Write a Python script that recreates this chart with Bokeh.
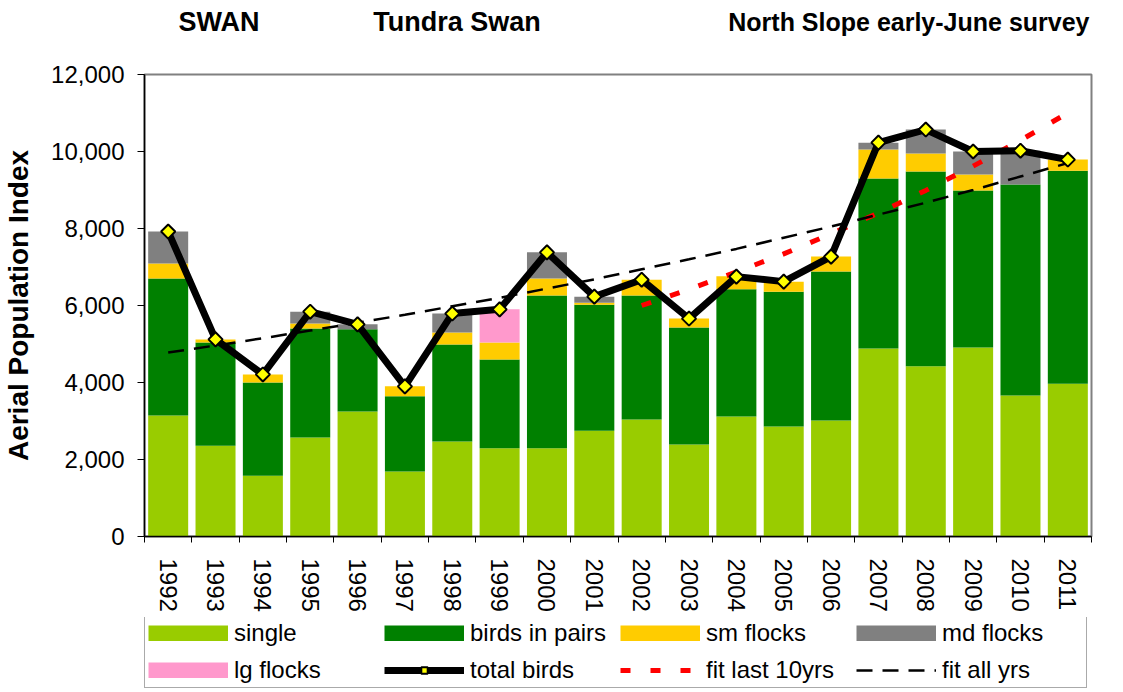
import math
from bokeh.plotting import figure
from bokeh.layouts import column
from bokeh.models import (ColumnDataSource, FixedTicker, Legend, LegendItem, Range1d,
                          NumeralTickFormatter, Label)
from bokeh.embed import file_html
from bokeh.resources import INLINE

# ---- data ----
years = [1992, 1993, 1994, 1995, 1996, 1997, 1998, 1999, 2000, 2001,
         2002, 2003, 2004, 2005, 2006, 2007, 2008, 2009, 2010, 2011]
single = [3140, 2360, 1580, 2570, 3250, 1690, 2470, 2290, 2290, 2750,
          3040, 2390, 3120, 2860, 3010, 4880, 4420, 4910, 3660, 3970]
pairs = [3560, 2680, 2420, 2830, 2130, 1950, 2520, 2310, 3970, 3270,
         3220, 3040, 3300, 3500, 3870, 4420, 5060, 4080, 5480, 5530]
sm_flocks = [390, 80, 210, 130, 0, 260, 310, 440, 440, 50,
             410, 230, 340, 260, 390, 750, 470, 410, 0, 290]
md_flocks = [830, 0, 0, 310, 130, 0, 490, 0, 680, 160,
             0, 0, 0, 0, 0, 180, 620, 600, 880, 0]
lg_flocks = [0, 0, 0, 0, 0, 0, 0, 860, 0, 0,
             0, 0, 0, 0, 0, 0, 0, 0, 0, 0]
total = [7920, 5120, 4210, 5840, 5510, 3900, 5790, 5900, 7380, 6230,
         6670, 5660, 6750, 6620, 7270, 10230, 10570, 10000, 10020, 9790]
fit_all = [4780, 4960, 5150, 5350, 5550, 5760, 5980, 6200, 6440, 6680,
           6940, 7200, 7470, 7760, 8050, 8360, 8670, 9000, 9350, 9700]
fit10_years = [2002, 2003, 2004, 2005, 2006, 2007, 2008, 2009, 2010, 2011]
fit10 = [6000, 6420, 6870, 7340, 7860, 8400, 8990, 9620, 10290, 11000]
y_ticks = [0, 2000, 4000, 6000, 8000, 10000, 12000]
series_names = ["single", "birds in pairs", "sm flocks", "md flocks", "lg flocks"]
series_colors = ["#99CC00", "#008000", "#FFCC00", "#808080", "#FF99CC"]
titles = ["SWAN", "Tundra Swan", "North Slope early-June survey"]

FONT = "Liberation Sans"
FW, BL, BR = 947, 137, 23


def strip(h):
    f = figure(frame_width=FW, frame_height=h, output_backend="svg", toolbar_location=None,
               x_range=Range1d(0, 1), y_range=Range1d(0, 1),
               x_axis_location=None, y_axis_location=None,
               min_border_left=BL, min_border_right=BR, min_border_top=0,
               min_border_bottom=0)
    f.outline_line_color = None
    f.xgrid.visible = False
    f.ygrid.visible = False
    return f


# ---------- title strip ----------
pt = strip(58)
for txt, x, align, fs in [(titles[0], 74.5, "center", "27px"),
                          (titles[1], 312.5, "center", "27px"),
                          (titles[2], 945, "right", "25px")]:
    pt.add_layout(Label(x=x, y=37, x_units="screen", y_units="screen", text=txt,
                        text_font=FONT, text_font_size=fs, text_font_style="bold",
                        text_align=align, text_baseline="middle", text_color="black"))

# ---------- main chart ----------
src = ColumnDataSource(dict(year=years, single=single, pairs=pairs, sm=sm_flocks,
                            md=md_flocks, lg=lg_flocks))

p = figure(frame_width=FW, frame_height=462, output_backend="svg", toolbar_location=None,
           x_range=Range1d(1991.5, 2011.5), y_range=Range1d(0, 12000),
           min_border_left=BL, min_border_right=BR, min_border_top=16,
           min_border_bottom=81)
p.xgrid.visible = False
p.ygrid.visible = False
p.outline_line_color = "#808080"
p.outline_line_width = 2

fit10_style = dict(line_color="#FF0000", line_width=5, line_dash="10 20")
fitall_style = dict(line_color="black", line_width=2.5, line_dash="16 10")
tot_style = dict(line_color="black", line_width=7, line_join="round")
mk_style = dict(marker="square", angle=math.pi / 4, size=10,
                fill_color="#FFFF00", line_color="black", line_width=2)

p.vbar_stack(["single", "pairs", "sm", "md", "lg"], x="year", width=0.845,
             color=series_colors, line_color=None, source=src)
p.line(fit10_years, fit10, **fit10_style)
p.line(years, fit_all, **fitall_style)
p.line(years, total, **tot_style)
p.scatter(years, total, **mk_style)

xa = p.xaxis[0]
xa.ticker = FixedTicker(ticks=years, minor_ticks=[y - 0.5 for y in years] + [years[-1] + 0.5])
xa.major_tick_line_color = None
xa.minor_tick_in = 0
xa.minor_tick_out = 6
xa.minor_tick_line_color = "black"
xa.major_label_orientation = -math.pi / 2
xa.major_label_text_font = FONT
xa.major_label_text_font_size = "24px"
xa.major_label_text_color = "black"
xa.major_label_standoff = 16
xa.axis_line_color = "black"
xa.axis_line_width = 1.5

ya = p.yaxis[0]
ya.ticker = FixedTicker(ticks=y_ticks)
ya.formatter = NumeralTickFormatter(format="0,0")
ya.minor_tick_line_color = None
ya.major_tick_in = 0
ya.major_tick_out = 7
ya.major_tick_line_color = "black"
ya.major_label_text_font = FONT
ya.major_label_text_font_size = "24px"
ya.major_label_text_color = "black"
ya.major_label_standoff = 13
ya.axis_line_color = "black"
ya.axis_line_width = 1.5
ya.axis_label = "Aerial Population Index"
ya.axis_label_text_font = FONT
ya.axis_label_text_font_size = "28px"
ya.axis_label_text_font_style = "bold"
ya.axis_label_text_color = "black"
ya.axis_label_standoff = 14

# ---------- legend strip (proxy renderers use the real data, outside this strip's ranges) ----------
pl = strip(71)
items = []
for name, col in zip(series_names, series_colors):
    r = pl.line(years, total, line_color=col, line_width=16, line_cap="butt")
    items.append(LegendItem(label=name, renderers=[r]))
r_tl = pl.line(years, total, **tot_style)
r_tm = pl.scatter(years, total, **mk_style)
items.append(LegendItem(label="total birds", renderers=[r_tl, r_tm]))
r_f10 = pl.line(fit10_years, fit10, **fit10_style)
items.append(LegendItem(label="fit last 10yrs", renderers=[r_f10]))
r_fa = pl.line(years, fit_all, **fitall_style)
items.append(LegendItem(label="fit all yrs", renderers=[r_fa]))

legend = Legend(items=items, orientation="horizontal", ncols=4,
                location=(0, 0), glyph_width=80, glyph_height=16,
                label_standoff=6, label_width=141, label_height=26, spacing=9,
                padding=3, label_text_font=FONT, label_text_font_size="24px",
                label_text_color="black", border_line_color="#555555",
                border_line_width=1.5, background_fill_alpha=1.0, margin=0)
pl.add_layout(legend, "center")

open("out.html", "w").write(file_html(column(pt, p, pl), INLINE))
